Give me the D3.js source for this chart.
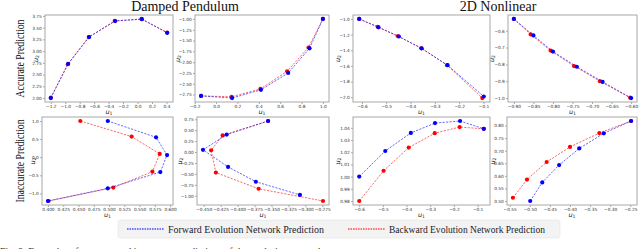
<!DOCTYPE html>
<html>
<head>
<meta charset="utf-8">
<script src="https://cdn.jsdelivr.net/npm/d3@7"></script>
<style>
  body { margin: 0; background: #fff; }
  svg { display: block; }
</style>
</head>
<body>
<script>
// ---- data ----
// Damped pendulum, accurate
const pendAccFwdU1 = [-1.2, -0.96, -0.67, -0.31, 0.06, 0.41];
const pendAccFwdU2 = [2.0, 2.73, 3.30, 3.64, 3.68, 3.39];
const pendAccBwdU1 = [-1.2, -0.965, -0.675, -0.315, 0.055, 0.41];
const pendAccBwdU2 = [2.01, 2.72, 3.30, 3.645, 3.685, 3.395];

const pendAcc2FwdU1 = [-0.14, 0.15, 0.42, 0.675, 0.875, 1.0];
const pendAcc2FwdU2 = [-2.78, -2.83, -2.64, -2.25, -1.68, -1.0];
const pendAcc2BwdU1 = [-0.14, 0.145, 0.415, 0.665, 0.865, 1.0];
const pendAcc2BwdU2 = [-2.78, -2.80, -2.62, -2.21, -1.66, -1.0];

// 2D nonlinear, accurate
const nlAccFwdU1 = [-0.611, -0.532, -0.448, -0.355, -0.248, -0.099];
const nlAccFwdU2 = [-1.0, -1.107, -1.224, -1.375, -1.59, -1.99];
const nlAccBwdU1 = [-0.611, -0.535, -0.452, -0.355, -0.25, -0.105];
const nlAccBwdU2 = [-1.0, -1.10, -1.22, -1.375, -1.59, -2.01];

const nlAcc2FwdU1 = [-0.90, -0.85, -0.80, -0.739, -0.673, -0.60];
const nlAcc2FwdU2 = [-0.53, -0.628, -0.724, -0.814, -0.904, -1.0];
const nlAcc2BwdU1 = [-0.90, -0.857, -0.806, -0.746, -0.68, -0.6025];
const nlAcc2BwdU2 = [-0.53, -0.622, -0.718, -0.81, -0.90, -0.998];

// Damped pendulum, inaccurate
const pendInaFwdU1 = [0.498, 0.577, 0.595, 0.584, 0.498, 0.40];
const pendInaFwdU2 = [1.0, 0.55, 0.06, -0.41, -0.86, -1.21];
const pendInaBwdU1 = [0.453, 0.537, 0.583, 0.571, 0.507, 0.401];
const pendInaBwdU2 = [1.0, 0.57, 0.09, -0.40, -0.84, -1.21];

const pendIna2FwdU1 = [-0.355, -0.416, -0.451, -0.414, -0.373, -0.308];
const pendIna2FwdU2 = [0.71, 0.40, 0.05, -0.34, -0.68, -0.98];
const pendIna2BwdU1 = [-0.355, -0.422, -0.439, -0.432, -0.369, -0.274];
const pendIna2BwdU2 = [0.71, 0.38, 0.04, -0.47, -0.84, -1.12];

// 2D nonlinear, inaccurate
const nlInaFwdU1 = [-0.6, -0.49, -0.382, -0.28, -0.174, -0.074];
const nlInaFwdU2 = [1.000, 1.021, 1.0358, 1.0439, 1.0456, 1.0392];
const nlInaBwdU1 = [-0.6, -0.497, -0.391, -0.281, -0.176, -0.074];
const nlInaBwdU2 = [0.980, 1.0048, 1.0238, 1.0356, 1.0406, 1.0392];

const nlIna2FwdU1 = [-0.499, -0.469, -0.427, -0.377, -0.316, -0.248];
const nlIna2FwdU2 = [0.50, 0.574, 0.643, 0.709, 0.769, 0.818];
const nlIna2BwdU1 = [-0.542, -0.507, -0.458, -0.400, -0.327, -0.248];
const nlIna2BwdU2 = [0.513, 0.585, 0.655, 0.715, 0.770, 0.818];

// tick labels
const ticksP1x = [-1.2, -1.0, -0.8, -0.6, -0.4, -0.2, 0.0, 0.2, 0.4];
const ticksP1y = [2.00, 2.25, 2.50, 2.75, 3.00, 3.25, 3.50, 3.75];
const ticksP2x = [-0.2, 0.0, 0.2, 0.4, 0.6, 0.8, 1.0];
const ticksP2y = [-2.75, -2.50, -2.25, -2.00, -1.75, -1.50, -1.25, -1.00];
const ticksP3x = [-0.6, -0.5, -0.4, -0.3, -0.2, -0.1];
const ticksP3y = [-2.0, -1.8, -1.6, -1.4, -1.2, -1.0];
const ticksP4x = [-0.90, -0.85, -0.80, -0.75, -0.70, -0.65, -0.60];
const ticksP4y = [-1.0, -0.9, -0.8, -0.7, -0.6];
const ticksP5x = [0.400, 0.425, 0.450, 0.475, 0.500, 0.525, 0.550, 0.575, 0.600];
const ticksP5y = [-1.0, -0.5, 0.0, 0.5, 1.0];
const ticksP6x = [-0.450, -0.425, -0.400, -0.375, -0.350, -0.325, -0.300, -0.275];
const ticksP6y = [-1.00, -0.75, -0.50, -0.25, 0.00, 0.25, 0.50, 0.75];
const ticksP7x = [-0.6, -0.5, -0.4, -0.3, -0.2, -0.1];
const ticksP7y = [0.98, 0.99, 1.00, 1.01, 1.02, 1.03, 1.04];
const ticksP8x = [-0.55, -0.50, -0.45, -0.40, -0.35, -0.30, -0.25];
const ticksP8y = [0.50, 0.55, 0.60, 0.65, 0.70, 0.75, 0.80];

const columnTitles = ["Damped Pendulum", "2D Nonlinear"];
const rowTitles = ["Accurate Prediction", "Inaccurate Prediction"];
const seriesNames = ["Forward Evolution Network Prediction", "Backward Evolution Network Prediction"];

// ---- layout ----
const width = 640, height = 249;
const blue = "#0000ff", red = "#ff0000";

const panels = [
  {l: 45,  r: 173, t: 15,  b: 102, ylx: 36,  fx: pendAccFwdU1, fy: pendAccFwdU2, bx: pendAccBwdU1, by: pendAccBwdU2, tx: ticksP1x, ty: ticksP1y, dx: 1, dy: 2},
  {l: 195, r: 329, t: 15,  b: 102, ylx: 178, fx: pendAcc2FwdU1, fy: pendAcc2FwdU2, bx: pendAcc2BwdU1, by: pendAcc2BwdU2, tx: ticksP2x, ty: ticksP2y, dx: 1, dy: 2},
  {l: 353, r: 490, t: 15,  b: 102, ylx: 338, fx: nlAccFwdU1, fy: nlAccFwdU2, bx: nlAccBwdU1, by: nlAccBwdU2, tx: ticksP3x, ty: ticksP3y, dx: 1, dy: 1},
  {l: 508, r: 637, t: 15,  b: 102, ylx: 492, fx: nlAcc2FwdU1, fy: nlAcc2FwdU2, bx: nlAcc2BwdU1, by: nlAcc2BwdU2, tx: ticksP4x, ty: ticksP4y, dx: 2, dy: 1},
  {l: 42,  r: 173, t: 117, b: 205, ylx: 33,  fx: pendInaFwdU1, fy: pendInaFwdU2, bx: pendInaBwdU1, by: pendInaBwdU2, tx: ticksP5x, ty: ticksP5y, dx: 3, dy: 1},
  {l: 197, r: 329, t: 117, b: 205, ylx: 180, fx: pendIna2FwdU1, fy: pendIna2FwdU2, bx: pendIna2BwdU1, by: pendIna2BwdU2, tx: ticksP6x, ty: ticksP6y, dx: 3, dy: 2},
  {l: 353, r: 490, t: 117, b: 205, ylx: 338, fx: nlInaFwdU1, fy: nlInaFwdU2, bx: nlInaBwdU1, by: nlInaBwdU2, tx: ticksP7x, ty: ticksP7y, dx: 1, dy: 2},
  {l: 507, r: 637, t: 117, b: 205, ylx: 493, fx: nlIna2FwdU1, fy: nlIna2FwdU2, bx: nlIna2BwdU1, by: nlIna2BwdU2, tx: ticksP8x, ty: ticksP8y, dx: 2, dy: 2}
];

const svg = d3.select("body").append("svg")
  .attr("width", width)
  .attr("height", height)
  .style("font-family", "'DejaVu Sans', sans-serif");

// matplotlib style 5% margin around the data
function padded(values) {
  const [lo, hi] = d3.extent(values);
  const m = (hi - lo) * 0.05;
  return [lo - m, hi + m];
}

function addULabel(g, x, y, sub, rotate) {
  const t = g.append("text")
    .attr("transform", `translate(${x},${y})` + (rotate ? " rotate(-90)" : ""))
    .attr("text-anchor", "middle")
    .attr("dominant-baseline", "middle")
    .style("font-size", "6.5px")
    .style("font-style", "italic")
    .attr("fill", "#222");
  t.append("tspan").text("u");
  t.append("tspan").attr("dy", 1.6).style("font-size", "4.6px").style("font-style", "normal").text(sub);
}

panels.forEach(p => {
  const x = d3.scaleLinear().domain(padded(p.fx.concat(p.bx))).range([p.l, p.r]);
  const y = d3.scaleLinear().domain(padded(p.fy.concat(p.by))).range([p.b, p.t]);

  const g = svg.append("g");

  let xAxis = d3.axisBottom(x).tickValues(p.tx).tickFormat(d3.format(`.${p.dx}f`)).tickSize(2).tickPadding(1.2);
  let yAxis = d3.axisLeft(y).tickValues(p.ty).tickFormat(d3.format(`.${p.dy}f`)).tickSize(2).tickPadding(1.2);

  const gx = g.append("g").attr("transform", `translate(0,${p.b})`).call(xAxis);
  const gy = g.append("g").attr("transform", `translate(${p.l},0)`).call(yAxis);
  [gx, gy].forEach(a => {
    a.select(".domain").remove();
    a.selectAll(".tick line").attr("stroke", "#555").attr("stroke-width", 0.5);
    a.selectAll(".tick text").attr("fill", "#333").style("font-size", "4.3px").style("font-family", "'DejaVu Sans', sans-serif");
  });

  g.append("rect")
    .attr("x", p.l).attr("y", p.t)
    .attr("width", p.r - p.l).attr("height", p.b - p.t)
    .attr("fill", "none")
    .attr("stroke", "#a8a8a8")
    .attr("stroke-width", 1);

  addULabel(g, (p.l + p.r) / 2, p.b + 10, "1", false);
  addULabel(g, p.ylx, (p.t + p.b) / 2, "2", true);

  const series = [
    {xs: p.bx, ys: p.by, color: red},
    {xs: p.fx, ys: p.fy, color: blue}
  ];
  const line = d3.line().x(d => x(d[0])).y(d => y(d[1]));
  series.forEach(s => {
    const pts = d3.zip(s.xs, s.ys);
    g.append("path")
      .datum(pts)
      .attr("d", line)
      .attr("fill", "none")
      .attr("stroke", s.color)
      .attr("stroke-opacity", 0.65)
      .attr("stroke-width", 0.9)
      .attr("stroke-dasharray", "2.2,1.3");
    g.selectAll(null)
      .data(pts)
      .enter()
      .append("circle")
      .attr("cx", d => x(d[0]))
      .attr("cy", d => y(d[1]))
      .attr("r", 2.1)
      .attr("fill", s.color);
  });
});

// column titles
const serif = "'Liberation Serif', 'Times New Roman', serif";
[[185, columnTitles[0]], [498, columnTitles[1]]].forEach(([cx, label]) => {
  svg.append("text")
    .attr("x", cx).attr("y", 11)
    .attr("text-anchor", "middle")
    .style("font-family", serif)
    .style("font-size", "14px")
    .attr("fill", "#111")
    .text(label);
});

// row titles
[[58.5, rowTitles[0], 78], [161, rowTitles[1], 83]].forEach(([cy, label, len]) => {
  svg.append("text")
    .attr("transform", `translate(24,${cy}) rotate(-90)`)
    .attr("text-anchor", "middle")
    .attr("textLength", len)
    .attr("lengthAdjust", "spacingAndGlyphs")
    .style("font-family", serif)
    .style("font-size", "13px")
    .attr("fill", "#111")
    .text(label);
});

// legend
const legend = svg.append("g");
legend.append("rect")
  .attr("x", 118).attr("y", 220)
  .attr("width", 442).attr("height", 18)
  .attr("rx", 2.5)
  .attr("fill", "#f3f3f3")
  .attr("stroke", "#e4e4e4")
  .attr("stroke-width", 0.6);
[[127, blue, seriesNames[0]], [348, red, seriesNames[1]]].forEach(([lx, color, label]) => {
  legend.append("line")
    .attr("x1", lx).attr("x2", lx + 37)
    .attr("y1", 229).attr("y2", 229)
    .attr("stroke", color)
    .attr("stroke-width", 1.2)
    .attr("stroke-dasharray", "1.6,0.9");
  legend.append("text")
    .attr("x", lx + 41).attr("y", 232.5)
    .attr("textLength", 156)
    .attr("lengthAdjust", "spacingAndGlyphs")
    .style("font-family", serif)
    .style("font-size", "10.5px")
    .attr("fill", "#222")
    .text(label);
});

// caption (cut off at the bottom edge)
svg.append("text")
  .attr("x", 0).attr("y", 255)
  .style("font-family", serif)
  .style("font-size", "10px")
  .attr("fill", "#333")
  .text("Fig. 3. Examples of accurate and inaccurate predictions of the evolution networks.");
</script>
</body>
</html>
